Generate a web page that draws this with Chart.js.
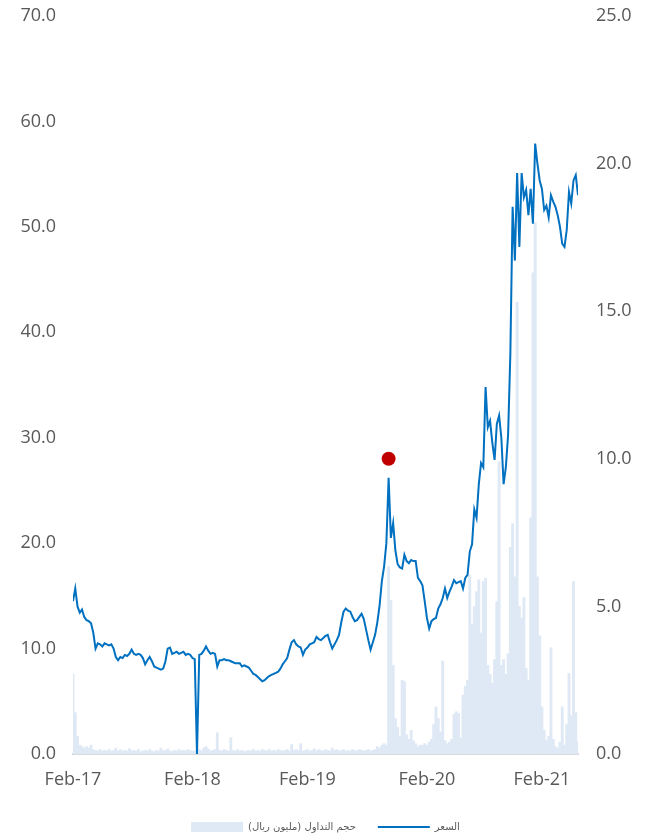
<!DOCTYPE html>
<html>
<head>
<meta charset="utf-8">
<script src="https://cdn.jsdelivr.net/npm/chart.js@4.4.0/dist/chart.umd.min.js"></script>
<style>
  html, body { margin: 0; padding: 0; background: #fff; }
  #wrap { width: 651px; height: 834px; }
</style>
</head>
<body>
<div id="wrap"><canvas id="chart"></canvas></div>
<script>
// weekly closing price (riyal), week 0 = Feb-2017
const price = [
  14.5, 15.7, 14.0, 13.4, 13.7, 13.0, 12.7, 12.6, 12.4, 11.5,
  10.0, 10.5, 10.4, 10.2, 10.5, 10.4, 10.3, 10.4, 10.0, 9.2,
  8.9, 9.2, 9.1, 9.4, 9.3, 9.5, 9.9, 9.5, 9.4, 9.5,
  9.4, 9.1, 8.5, 8.9, 9.2, 8.8, 8.3, 8.2, 8.1, 8.0,
  8.1, 8.8, 10.0, 10.1, 9.5, 9.6, 9.7, 9.5, 9.6, 9.7,
  9.4, 9.5, 9.4, 9.1, 9.0, 0, 9.4, 9.5, 9.8, 10.2,
  9.8, 9.5, 9.6, 9.5, 8.3, 8.9, 8.9, 9.0, 8.9, 8.9,
  8.8, 8.7, 8.6, 8.6, 8.6, 8.3, 8.4, 8.3, 8.2, 7.9,
  7.6, 7.5, 7.3, 7.1, 6.9, 7.0, 7.2, 7.4, 7.5, 7.6,
  7.7, 7.8, 8.1, 8.5, 8.8, 9.1, 9.9, 10.6, 10.8, 10.4,
  10.2, 10.1, 9.4, 9.9, 10.1, 10.4, 10.5, 10.6, 11.1, 10.9,
  10.8, 11.0, 11.2, 11.3, 10.6, 10.0, 10.4, 10.8, 11.3, 12.5,
  13.5, 13.8, 13.6, 13.5, 13.0, 12.6, 12.7, 13.0, 13.3, 12.8,
  11.8, 10.8, 9.9, 10.6, 11.3, 12.5, 14.1, 16.4, 17.8, 20.0,
  26.2, 20.5, 21.9, 19.3, 18.0, 17.7, 17.6, 18.9, 18.3, 18.1,
  18.4, 18.3, 18.3, 16.7, 16.4, 16.0, 14.5, 12.9, 11.9, 12.6,
  12.8, 12.9, 13.8, 14.2, 14.8, 15.7, 14.8, 15.4, 15.9, 16.5,
  16.2, 16.3, 16.4, 15.7, 16.7, 17.0, 19.2, 19.9, 23.2, 22.4,
  25.6, 27.6, 27.2, 34.8, 31.0, 31.6, 29.5, 27.9, 31.3, 32.1,
  30.0, 25.6, 27.2, 30.3, 38.0, 51.9, 46.8, 55.1, 48.1, 55.1,
  52.8, 53.5, 51.1, 53.6, 50.3, 57.9, 56.0, 54.4, 53.6, 51.6,
  52.0, 50.9, 53.0, 52.4, 51.9, 51.1, 50.0, 48.4, 48.1, 49.7,
  53.3, 52.2, 54.4, 54.9, 53.0
];

// weekly traded value (million riyal)
const volume = [
  2.7, 1.4, 0.6, 0.3, 0.25, 0.2, 0.25, 0.2, 0.3, 0.15,
  0.12, 0.1, 0.15, 0.1, 0.12, 0.1, 0.15, 0.1, 0.12, 0.2,
  0.1, 0.15, 0.1, 0.12, 0.1, 0.18, 0.1, 0.12, 0.1, 0.15,
  0.08, 0.1, 0.12, 0.1, 0.15, 0.1, 0.08, 0.12, 0.1, 0.2,
  0.1, 0.12, 0.17, 0.1, 0.08, 0.12, 0.1, 0.15, 0.1, 0.12,
  0.1, 0.15, 0.12, 0.1, 0.1, 0.12, 0.15, 0.1, 0.2, 0.25,
  0.17, 0.1, 0.12, 0.15, 0.72, 0.12, 0.1, 0.15, 0.12, 0.1,
  0.55, 0.12, 0.1, 0.15, 0.1, 0.12, 0.08, 0.1, 0.12, 0.1,
  0.15, 0.1, 0.12, 0.1, 0.15, 0.12, 0.1, 0.15, 0.1, 0.12,
  0.1, 0.15, 0.12, 0.1, 0.12, 0.15, 0.1, 0.32, 0.12, 0.15,
  0.12, 0.35, 0.1, 0.12, 0.15, 0.1, 0.12, 0.18, 0.1, 0.15,
  0.12, 0.1, 0.15, 0.12, 0.1, 0.2, 0.12, 0.15, 0.1, 0.12,
  0.15, 0.1, 0.12, 0.1, 0.15, 0.12, 0.1, 0.15, 0.12, 0.1,
  0.12, 0.15, 0.1, 0.12, 0.15, 0.25, 0.2, 0.3, 0.35, 0.3,
  6.35, 5.2, 3.0, 1.2, 0.9, 0.6, 2.5, 2.45, 0.65, 0.5,
  0.8, 0.45, 0.35, 0.25, 0.3, 0.3, 0.35, 0.3, 0.4, 0.5,
  1.0, 1.6, 1.2, 0.75, 3.15, 0.45, 0.35, 0.4, 0.5, 1.35,
  1.43, 1.37, 0.55, 2.0, 2.3, 2.5, 6.07, 4.4, 5.0, 5.5,
  5.9, 4.1, 5.84, 5.95, 3.0, 2.7, 2.4, 3.2, 5.16, 9.9,
  3.0, 3.2, 2.7, 3.4, 7.0, 7.8, 6.0, 15.3, 5.0, 4.6,
  5.3, 2.9, 2.5, 8.0, 16.3, 18.0, 6.0, 4.0, 1.6, 0.8,
  0.45, 0.6, 3.6, 0.5, 0.25, 0.2, 0.4, 1.6, 0.3, 1.0,
  2.73, 1.3, 5.84, 1.4, 0.4
];

const tickWeeks  = [0, 53, 104, 157, 208];
const tickLabels = ["Feb-17", "Feb-18", "Feb-19", "Feb-20", "Feb-21"];

// highlighted point (red dot)
const markerWeek  = [140];
const markerValue = [28.0];

const priceLabel  = "السعر";
const volumeLabel = "حجم التداول (مليون ريال)";

const axisFont = { family: "Open Sans", size: 18 };
const grey = "#595959";

// fixed axis widths, no extra label padding so the plot box is exact
function fixY(s) {
  s.width = 73;
  s.paddingTop = 0;
  s.paddingBottom = 0;
}

new Chart(document.getElementById("chart").getContext("2d"), {
  type: "line",
  data: {
    datasets: [
      {
        label: priceLabel,
        data: price.map((v, i) => ({ x: i, y: v })),
        borderColor: "#0070c0",
        backgroundColor: "#0070c0",
        borderWidth: 2,
        pointRadius: 0,
        pointStyle: "line",
        tension: 0,
        yAxisID: "y"
      },
      {
        type: "bar",
        label: volumeLabel,
        data: volume.map((v, i) => ({ x: i, y: v })),
        backgroundColor: "#dfe9f5",
        borderWidth: 0,
        barPercentage: 1,
        categoryPercentage: 1,
        pointStyle: "rect",
        yAxisID: "y1"
      },
      {
        label: "marker",
        data: markerWeek.map((w, i) => ({ x: w, y: markerValue[i] })),
        showLine: false,
        pointRadius: 7,
        pointBackgroundColor: "#c00000",
        pointBorderWidth: 0,
        yAxisID: "y"
      }
    ]
  },
  options: {
    responsive: true,
    maintainAspectRatio: false,
    animation: false,
    layout: { padding: { top: 16, left: 0, right: 0, bottom: -8 } },
    scales: {
      x: {
        type: "linear",
        min: 0,
        max: 224,
        offset: false,
        grid: { display: false, drawTicks: false },
        border: { display: true, color: "#d9d9d9", width: 2 },
        ticks: {
          padding: 15,
          color: grey,
          font: axisFont,
          maxRotation: 0,
          autoSkip: false,
          callback: (v) => tickLabels[tickWeeks.indexOf(v)]
        },
        afterBuildTicks: (s) => { s.ticks = tickWeeks.map(v => ({ value: v })); },
        afterFit: (s) => { s.height = 46; }
      },
      y: {
        position: "left",
        min: 0,
        max: 70,
        grid: { display: false, drawTicks: false },
        border: { display: false },
        ticks: { stepSize: 10, padding: 17, color: grey, font: axisFont, callback: v => v.toFixed(1) },
        afterFit: fixY
      },
      y1: {
        position: "right",
        min: 0,
        max: 25,
        grid: { display: false, drawTicks: false },
        border: { display: false },
        ticks: { stepSize: 5, padding: 18, color: grey, font: axisFont, callback: v => v.toFixed(1) },
        afterFit: fixY
      }
    },
    plugins: {
      tooltip: { enabled: false },
      legend: {
        position: "bottom",
        textDirection: "rtl",
        labels: {
          usePointStyle: true,
          pointStyleWidth: 52,
          boxHeight: 10,
          padding: 22,
          color: grey,
          font: { family: "DejaVu Sans", size: 10 },
          filter: (item) => item.datasetIndex !== 2,
          sort: (a, b) => b.datasetIndex - a.datasetIndex
        }
      }
    }
  }
});
</script>
</body>
</html>
